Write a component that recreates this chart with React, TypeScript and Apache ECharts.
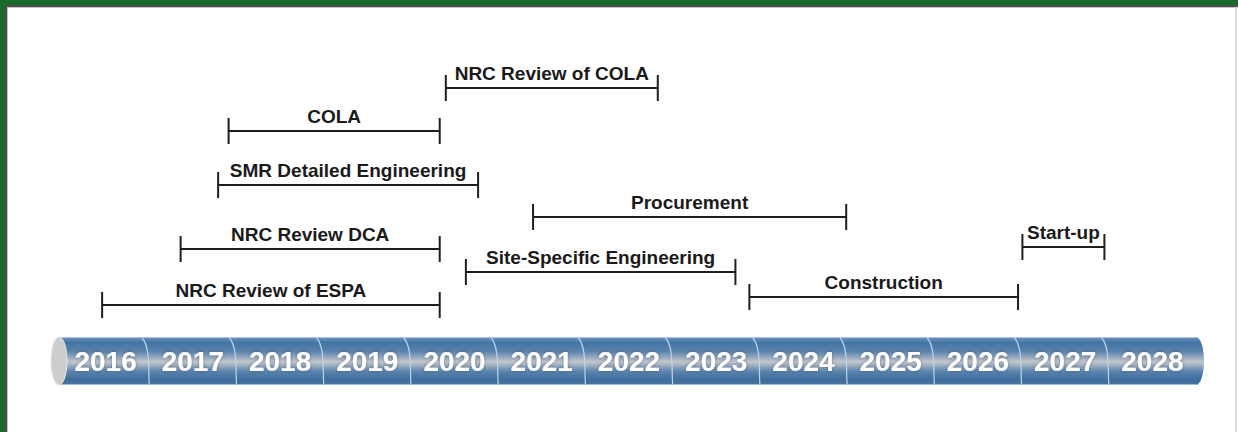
import React, { useEffect, useRef } from "react";
import * as echarts from "echarts";

// Timeline years (labels drawn on the cylinder)
const yearLabels = ["2016", "2017", "2018", "2019", "2020", "2021", "2022", "2023", "2024", "2025", "2026", "2027", "2028"];
const yearStarts = [2016, 2017, 2018, 2019, 2020, 2021, 2022, 2023, 2024, 2025, 2026, 2027, 2028];
const dividerYears = [2017, 2018, 2019, 2020, 2021, 2022, 2023, 2024, 2025, 2026, 2027, 2028];
const timelineSpan = [2016, 2029];

// Activities: name, start (decimal year), end (decimal year), lane (height above the timeline)
const taskNames = [
  "NRC Review of ESPA",
  "NRC Review DCA",
  "SMR Detailed Engineering",
  "COLA",
  "NRC Review of COLA",
  "Procurement",
  "Site-Specific Engineering",
  "Construction",
  "Start-up",
];
const taskStarts = [2016.46, 2017.36, 2017.79, 2017.91, 2020.4, 2021.4, 2020.63, 2023.88, 2027.01];
const taskEnds = [2020.33, 2020.33, 2020.77, 2020.33, 2022.83, 2024.99, 2023.72, 2026.96, 2027.95];
const taskLanes = [56, 112, 176, 230, 273, 144, 89, 64, 114];

const FONT = "'Liberation Sans', Arial, Helvetica, sans-serif";

export default function App() {
  const ref = useRef<HTMLDivElement>(null);

  useEffect(() => {
    if (!ref.current) return;
    const chart = echarts.init(ref.current, null, { renderer: "svg" });

    const tubeGradient = new echarts.graphic.LinearGradient(0, 0, 0, 1, [
      { offset: 0, color: "#6f95bd" },
      { offset: 0.12, color: "#4474a4" },
      { offset: 0.3, color: "#5a83ad" },
      { offset: 0.52, color: "#c4c7cb" },
      { offset: 0.72, color: "#5a83ad" },
      { offset: 0.9, color: "#3d6b9b" },
      { offset: 1, color: "#4a77a5" },
    ]);

    const HALF = 24;

    const option: any = {
      animation: false,
      backgroundColor: "#ffffff",
      grid: { left: 62, right: 1238 - 1196, top: 0, bottom: 432 - 361 },
      xAxis: { type: "value", min: 2016, max: 2029, show: false },
      yAxis: { type: "value", min: 0, max: 361, show: false },
      graphic: [
        { type: "rect", shape: { x: 0, y: 0, width: 1238, height: 5 }, style: { fill: "#1a6a2e" }, z: 100 },
        { type: "rect", shape: { x: 0, y: 0, width: 5, height: 432 }, style: { fill: "#1a6a2e" }, z: 100 },
        { type: "rect", shape: { x: 5, y: 5, width: 1233, height: 2 }, style: { fill: "#4d4d4d" }, z: 100 },
        { type: "rect", shape: { x: 5, y: 5, width: 2, height: 427 }, style: { fill: "#4d4d4d" }, z: 100 },
        { type: "rect", shape: { x: 7, y: 7, width: 1231, height: 1 }, style: { fill: "#c4c4c4" }, z: 100 },
        { type: "rect", shape: { x: 7, y: 7, width: 1, height: 425 }, style: { fill: "#c4c4c4" }, z: 100 },
        { type: "rect", shape: { x: 1235, y: 7, width: 2, height: 425 }, style: { fill: "#dcdcdc" }, z: 100 },
      ],
      series: [
        {
          type: "custom",
          name: "timeline",
          data: [[timelineSpan[0], timelineSpan[1], 0]],
          encode: { x: [0, 1], y: 2 },
          renderItem: (params: any, api: any) => {
            const s = api.coord([api.value(0), api.value(2)]);
            const e = api.coord([api.value(1), api.value(2)]);
            const x0 = s[0] - 3;
            const x1 = e[0];
            const cy = s[1];
            return {
              type: "group",
              children: [
                {
                  type: "rect",
                  shape: { x: x0, y: cy - HALF, width: x1 - x0, height: HALF * 2 },
                  style: { fill: tubeGradient },
                },
                {
                  type: "ellipse",
                  shape: { cx: x1, cy, rx: 8, ry: HALF },
                  style: { fill: tubeGradient },
                },
                {
                  type: "line",
                  shape: { x1: x0, y1: cy - HALF + 0.5, x2: x1, y2: cy - HALF + 0.5 },
                  style: { stroke: "#a9c6e3", lineWidth: 1 },
                },
                {
                  type: "line",
                  shape: { x1: x0, y1: cy + HALF - 0.5, x2: x1, y2: cy + HALF - 0.5 },
                  style: { stroke: "#9dbde0", lineWidth: 1 },
                },
                {
                  type: "ellipse",
                  shape: { cx: x0, cy, rx: 8, ry: HALF },
                  style: { fill: "#cdcdcd", stroke: "#e6e6e6", lineWidth: 1 },
                },
              ],
            };
          },
          silent: true,
          z: 1,
        },
        {
          type: "custom",
          name: "dividers",
          data: dividerYears.map((y) => [y, 0]),
          encode: { x: 0, y: 1 },
          renderItem: (params: any, api: any) => {
            const p = api.coord([api.value(0), api.value(1)]);
            const x = p[0];
            const cy = p[1];
            return {
              type: "bezierCurve",
              shape: {
                x1: x - 7,
                y1: cy - HALF + 1,
                cpx1: x + 1,
                cpy1: cy - 14,
                cpx2: x - 1,
                cpy2: cy + 8,
                x2: x,
                y2: cy + HALF - 1,
              },
              style: { stroke: "#bcd4ec", lineWidth: 1.2, fill: null },
            };
          },
          silent: true,
          z: 2,
        },
        {
          type: "custom",
          name: "years",
          data: yearStarts.map((y) => [y, 0]),
          encode: { x: 0, y: 1 },
          renderItem: (params: any, api: any) => {
            const a = api.coord([api.value(0), api.value(1)]);
            const b = api.coord([api.value(0) + 1, api.value(1)]);
            return {
              type: "text",
              style: {
                x: (a[0] + b[0]) / 2,
                y: a[1],
                text: yearLabels[params.dataIndex],
                fill: "#ffffff",
                fontSize: 28,
                fontWeight: "bold",
                fontFamily: FONT,
                align: "center",
                verticalAlign: "middle",
                textShadowColor: "rgba(30,50,80,0.5)",
                textShadowBlur: 3,
              },
            };
          },
          silent: true,
          z: 3,
        },
        {
          type: "custom",
          name: "tasks",
          data: taskNames.map((_, i) => [taskStarts[i], taskEnds[i], taskLanes[i]]),
          encode: { x: [0, 1], y: 2 },
          renderItem: (params: any, api: any) => {
            const s = api.coord([api.value(0), api.value(2)]);
            const e = api.coord([api.value(1), api.value(2)]);
            const stroke = { stroke: "#1e1e1e", lineWidth: 2 };
            return {
              type: "group",
              children: [
                { type: "line", shape: { x1: s[0], y1: s[1], x2: e[0], y2: e[1] }, style: stroke },
                { type: "line", shape: { x1: s[0], y1: s[1] - 13, x2: s[0], y2: s[1] + 13 }, style: stroke },
                { type: "line", shape: { x1: e[0], y1: e[1] - 13, x2: e[0], y2: e[1] + 13 }, style: stroke },
                {
                  type: "text",
                  style: {
                    x: (s[0] + e[0]) / 2,
                    y: s[1] - 15,
                    text: taskNames[params.dataIndex],
                    fill: "#1a1a1a",
                    fontSize: 19,
                    fontWeight: "bold",
                    fontFamily: FONT,
                    align: "center",
                    verticalAlign: "middle",
                  },
                },
              ],
            };
          },
          silent: true,
          z: 4,
        },
      ],
    };

    chart.setOption(option);
    return () => chart.dispose();
  }, []);

  return (
    <div
      ref={ref}
      style={{ position: "absolute", left: 0, top: 0, width: 1238, height: 432, background: "#ffffff" }}
    />
  );
}
